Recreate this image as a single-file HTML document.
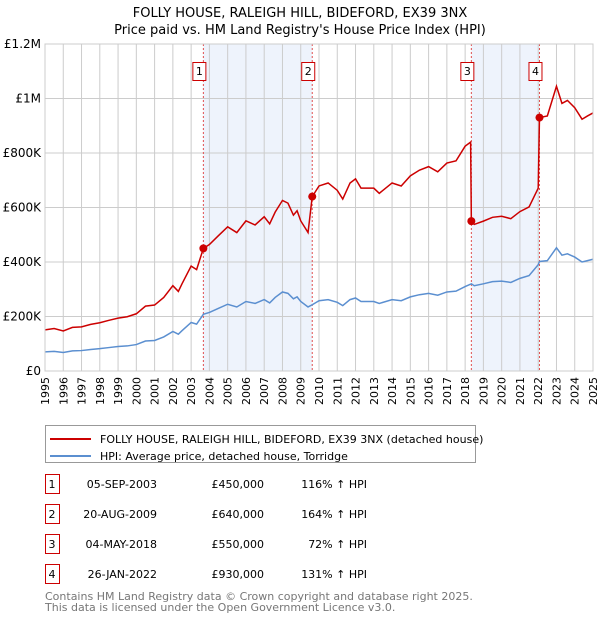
<!DOCTYPE html>
<html><head><meta charset="utf-8"><style>
body{margin:0;background:#fff;font-family:"DejaVu Sans","Liberation Sans",sans-serif}
svg text{font-family:"DejaVu Sans","Liberation Sans",sans-serif}
</style></head><body>
<svg id="c" width="600" height="620" xmlns="http://www.w3.org/2000/svg">
<text x="300" y="17" text-anchor="middle" font-size="13">FOLLY HOUSE, RALEIGH HILL, BIDEFORD, EX39 3NX</text>
<text x="300" y="34" text-anchor="middle" font-size="13">Price paid vs. HM Land Registry's House Price Index (HPI)</text>
<g id="plot"></g>
<g>
<rect x="45.5" y="425.5" width="430" height="37" fill="#fff" stroke="#999"/>
<line x1="50" y1="439" x2="91" y2="439" stroke="#cc0000" stroke-width="2"/>
<text x="100" y="443" font-size="11">FOLLY HOUSE, RALEIGH HILL, BIDEFORD, EX39 3NX (detached house)</text>
<line x1="50" y1="456" x2="91" y2="456" stroke="#5b8fd0" stroke-width="2"/>
<text x="100" y="460" font-size="11">HPI: Average price, detached house, Torridge</text>
</g>
<g id="tbl" font-size="11"></g>
<text x="45" y="600" font-size="11" fill="#777">Contains HM Land Registry data © Crown copyright and database right 2025.</text>
<text x="45" y="611" font-size="11" fill="#777">This data is licensed under the Open Government Licence v3.0.</text>
</svg>
<script>
const hpiT=[1995,1995.5,1996,1996.5,1997,1997.5,1998,1998.5,1999,1999.5,2000,2000.5,2001,2001.5,2002,2002.3,2002.5,2003,2003.3,2003.67,2004,2004.5,2005,2005.5,2006,2006.5,2007,2007.3,2007.6,2008,2008.3,2008.6,2008.8,2009,2009.4,2009.63,2010,2010.5,2011,2011.3,2011.7,2012,2012.3,2013,2013.3,2014,2014.5,2015,2015.5,2016,2016.5,2017,2017.5,2018,2018.34,2018.5,2019,2019.5,2020,2020.5,2021,2021.5,2022,2022.07,2022.5,2023,2023.3,2023.6,2024,2024.4,2024.7,2025];
const hpiV=[70,72,68,74,75,79,82,86,90,92,97,110,112,125,145,135,148,178,172,208,215,230,245,235,255,248,262,250,270,290,285,265,272,255,235,243,258,262,252,240,262,268,255,255,248,262,258,272,280,285,278,290,293,310,320,313,320,328,330,325,340,350,390,402,405,452,425,430,418,400,405,410];
const redT=[1995,1995.5,1996,1996.5,1997,1997.5,1998,1998.5,1999,1999.5,2000,2000.5,2001,2001.5,2002,2002.3,2002.5,2003,2003.3,2003.67,2004,2004.5,2005,2005.5,2006,2006.5,2007,2007.3,2007.6,2008,2008.3,2008.6,2008.8,2009,2009.4,2009.63,2010,2010.5,2011,2011.3,2011.7,2012,2012.3,2013,2013.3,2014,2014.5,2015,2015.5,2016,2016.5,2017,2017.5,2018,2018.3,2018.34,2018.5,2019,2019.5,2020,2020.5,2021,2021.5,2022,2022.07,2022.5,2023,2023.3,2023.6,2024,2024.4,2024.7,2025];
const redV=[151,156,147,160,162,171,177,186,194,199,210,238,242,270,313,292,320,385,372,450,464,497,529,508,551,536,566,540,583,626,616,572,588,551,508,640,679,690,663,631,690,705,671,671,652,690,679,716,737,750,731,763,771,825,840,550,538,550,564,568,559,585,602,671,930,936,1045,982,993,966,924,936,947];
const saleT=[2003.67,2009.63,2018.34,2022.07];
const saleV=[450,640,550,930];
const saleLbl=["1","2","3","4"];
const saleDate=["05-SEP-2003","20-AUG-2009","04-MAY-2018","26-JAN-2022"];
const salePrice=["£450,000","£640,000","£550,000","£930,000"];
const saleHpi=["116% ↑ HPI","164% ↑ HPI","72% ↑ HPI","131% ↑ HPI"];
const yTicks=[0,200,400,600,800,1000,1200];
const yTickLbl=["£0","£200K","£400K","£600K","£800K","£1M","£1.2M"];
const years=[];for(let y=1995;y<=2025;y++)years.push(y);

const X0=45,X1=593,Y0=371,Y1=44;
const xs=t=>X0+(t-1995)/30*(X1-X0);
const ys=v=>Y0-v/1200*(Y0-Y1);
const NS="http://www.w3.org/2000/svg";
const P=document.getElementById('plot');
function mk(tag,at,parent){const e=document.createElementNS(NS,tag);for(const k in at)e.setAttribute(k,at[k]);(parent||P).appendChild(e);return e;}
let e=mk('rect',{x:X0,y:Y1,width:X1-X0,height:Y0-Y1,fill:'#fff'});


for(const [a,b] of [[0,1],[2,3]]){
 e=mk('rect',{x:xs(saleT[a]),y:Y1,width:xs(saleT[b])-xs(saleT[a]),height:Y0-Y1,fill:'#eef3fc'});
 
 
}
years.forEach(y=>{
 e=mk('line',{x1:xs(y),x2:xs(y),y1:Y1,y2:Y0,stroke:'#ccc','stroke-width':1});
 
 
 const tx=mk('text',{x:0,y:0,'font-size':11,'text-anchor':'end',transform:`translate(${xs(y)+4},${Y0+6}) rotate(-90)`});
 tx.textContent=y;
 
 
});
yTicks.forEach((v,i)=>{
 e=mk('line',{x1:X0,x2:X1,y1:ys(v),y2:ys(v),stroke:'#ccc','stroke-width':1});
 
 
 const tx=mk('text',{x:X0-4,y:ys(v)+4,'font-size':12,'text-anchor':'end'});
 tx.textContent=yTickLbl[i];
 
 
});
saleT.forEach((t,i)=>{
 e=mk('line',{x1:xs(t),x2:xs(t),y1:Y1,y2:Y0,stroke:'#e05050','stroke-width':1,'stroke-dasharray':'2,2'});
 
 
 e=mk('rect',{x:xs(t)-10.5,y:62.5,width:13,height:18,fill:'#fff',stroke:'#cc0000'});
 
 
 const tx=mk('text',{x:xs(t)-4,y:75,'font-size':11,'text-anchor':'middle'});
 tx.textContent=saleLbl[i];
 
 
});
e=mk('polyline',{points:hpiT.map((t,i)=>xs(t)+','+ys(hpiV[i])).join(' '),fill:'none',stroke:'#5b8fd0','stroke-width':1.5});


e=mk('polyline',{points:redT.map((t,i)=>xs(t)+','+ys(redV[i])).join(' '),fill:'none',stroke:'#cc0000','stroke-width':1.5});


saleT.forEach((t,i)=>{
 e=mk('circle',{cx:xs(t),cy:ys(saleV[i]),r:4,fill:'#cc0000'});
 
 
});
e=mk('rect',{x:X0,y:Y1,width:X1-X0,height:Y0-Y1,fill:'none',stroke:'#ccc'});


const T=document.getElementById('tbl');
saleT.forEach((t,i)=>{
 const cy=483+i*30;
 e=mk('rect',{x:45.5,y:cy-8.5,width:14,height:19,fill:'#fff',stroke:'#cc0000'},T);
 
 
 let tx=mk('text',{x:52,y:cy+5,'text-anchor':'middle'},T);tx.textContent=saleLbl[i];
 
 
 tx=mk('text',{x:157,y:cy+5,'text-anchor':'end'},T);tx.textContent=saleDate[i];
 
 
 tx=mk('text',{x:264,y:cy+5,'text-anchor':'end'},T);tx.textContent=salePrice[i];
 
 
 tx=mk('text',{x:367,y:cy+5,'text-anchor':'end'},T);tx.textContent=saleHpi[i];
 
 
});
</script>
</body></html>
